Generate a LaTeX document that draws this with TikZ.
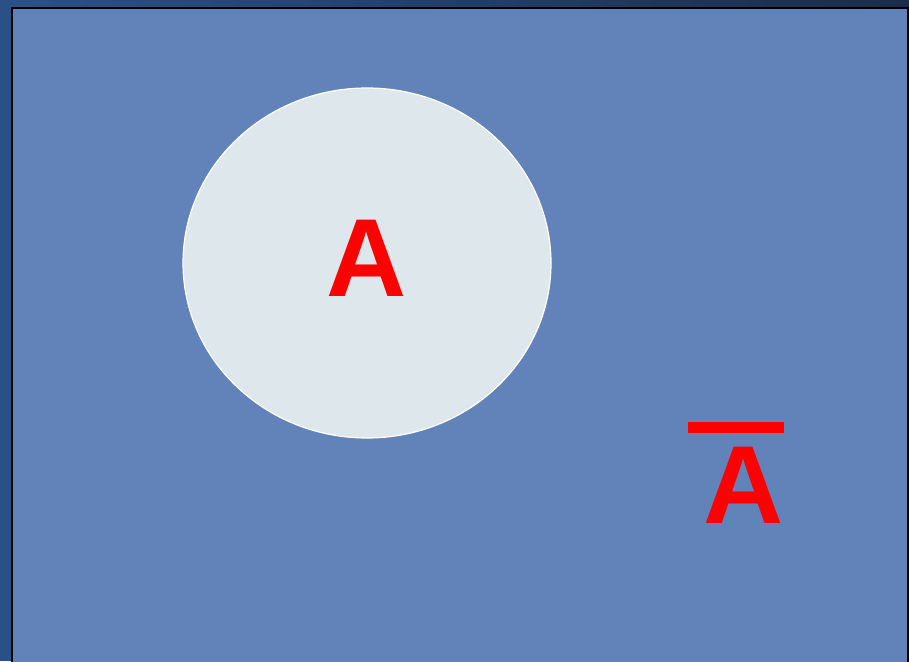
\documentclass[tikz,border=0pt]{standalone}
\usepackage{fontspec}
\setmainfont{Liberation Sans}
\usetikzlibrary{shapes.geometric}
\definecolor{outerbg}{HTML}{2A5186}
\definecolor{topdark}{HTML}{1B2C4A}
\definecolor{panel}{HTML}{6283BA}
\definecolor{setfill}{HTML}{DEE8EC}
\begin{document}
\begin{tikzpicture}[x=1pt,y=1pt,
  bigletter/.style={text=red,font=\bfseries\fontsize{111}{111}\selectfont,inner sep=0pt,anchor=base}]
\useasboundingbox (0,0) rectangle (909,-661);
\fill[outerbg] (0,0) rectangle (909,-661);
\shade[left color=outerbg,right color=topdark] (0,0) rectangle (909,-8);
\draw[line width=2pt,fill=panel] (12,-8) rectangle (907.5,-663);
\node[ellipse,draw=white,line width=1.2pt,fill=setfill,minimum width=368pt,minimum height=350pt,inner sep=0pt] (setA) at (367,-263) {};
\node[bigletter] (labelA) at (367,-296) {A};
\node[bigletter] (labelAbar) at (744,-523) {A};
\fill[red] (688,-422) rectangle (784,-433);
\end{tikzpicture}
\end{document}
